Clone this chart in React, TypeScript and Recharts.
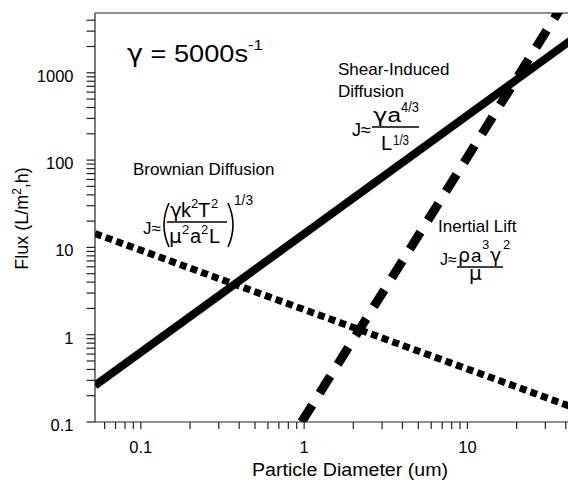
import React from 'react';
import { LineChart, Line, XAxis, YAxis, ReferenceLine } from 'recharts';

// particle diameter (um) and flux (L/m2,h) end points
const brownianDiameter = [0.0524, 46.2];
const brownianFlux = [14.4, 0.143];
const shearDiameter = [0.0524, 46.2];
const shearFlux = [0.262, 2600];
const liftDiameter = [0.965, 46.2];
const liftFlux = [0.1, 10500];

const diameterTicks = [
  0.06, 0.07, 0.08, 0.09, 0.1, 0.2, 0.3, 0.4, 0.5, 0.6, 0.7, 0.8, 0.9,
  1, 2, 3, 4, 5, 6, 7, 8, 9, 10, 20, 30, 40,
];
const diameterLabels: Record<string, string> = { '0.1': '0.1', '1': '1', '10': '10' };
const fluxTicks = [
  0.1, 0.2, 0.3, 0.4, 0.5, 0.6, 0.7, 0.8, 0.9,
  1, 2, 3, 4, 5, 6, 7, 8, 9,
  10, 20, 30, 40, 50, 60, 70, 80, 90,
  100, 200, 300, 400, 500, 600, 700, 800, 900,
  1000, 2000, 3000, 4000,
];
const fluxLabels: Record<string, string> = {
  '0.1': '0.1', '1': '1', '10': '10', '100': '100', '1000': '1000',
};
const diameterDomain = [0.0524, 46.2];
const fluxDomain = [0.1, 4840];

const toRows = (xs: number[], ys: number[]) => xs.map((d, i) => ({ d, j: ys[i] }));
const brownian = toRows(brownianDiameter, brownianFlux);
const shear = toRows(shearDiameter, shearFlux);
const lift = toRows(liftDiameter, liftFlux);

const FONT = '"Liberation Sans", Arial, Helvetica, sans-serif';
const GREEK = '"DejaVu Sans", sans-serif';
const INK = '#222';

const YTick = (props: any) => {
  const { x, y, payload } = props;
  const label = fluxLabels[String(payload.value)];
  if (!label) return <g />;
  return (
    <text x={x} y={y} dy={9} textAnchor="end" fontSize={16.5} fontFamily={FONT} fill="#000">
      {label}
    </text>
  );
};

const XTick = (props: any) => {
  const { x, y, payload } = props;
  const label = diameterLabels[String(payload.value)];
  if (!label) return <g />;
  return (
    <text x={x} y={y} dy={24} textAnchor="middle" fontSize={16.5} fontFamily={FONT} fill="#000">
      {label}
    </text>
  );
};

const Bar = ({ x1, x2, y }: { x1: number; x2: number; y: number }) => (
  <line x1={x1} x2={x2} y1={y} y2={y} stroke="#000" strokeWidth={1.3} />
);

// text overlay, written in page coordinates
const Notes = () => (
  <g transform="translate(-8,-8)" fontFamily={FONT} fill="#000">
    <text x={127} y={62} fontSize={24} textLength={121} lengthAdjust="spacingAndGlyphs">
      <tspan fontFamily={GREEK}>γ</tspan> = 5000s
    </text>
    <text x={248} y={50} fontSize={14} textLength={15} lengthAdjust="spacingAndGlyphs">-1</text>

    <text x={338} y={75} fontSize={17}>Shear-Induced</text>
    <text x={338} y={97} fontSize={17}>Diffusion</text>
    <text x={352} y={136} fontSize={18}>J≈</text>
    <text x={373} y={122} fontSize={20} textLength={28} lengthAdjust="spacingAndGlyphs">
      <tspan fontFamily={GREEK}>γ</tspan>a
    </text>
    <text x={401} y={112} fontSize={14} textLength={18} lengthAdjust="spacingAndGlyphs">4/3</text>
    <Bar x1={372} x2={419} y={127} />
    <text x={381} y={150} fontSize={20}>L</text>
    <text x={393} y={145} fontSize={14} textLength={16} lengthAdjust="spacingAndGlyphs">1/3</text>

    <text x={133} y={175} fontSize={17}>Brownian Diffusion</text>
    <text x={143} y={234} fontSize={17}>J≈</text>
    <path d="M169 203 Q159 225 169 247" stroke="#000" strokeWidth={1.6} fill="none" />
    <text x={170} y={217} fontSize={20} fontFamily={GREEK}>γ</text>
    <text x={181} y={217} fontSize={20}>k</text>
    <text x={191} y={208} fontSize={13}>2</text>
    <text x={198} y={217} fontSize={20}>T</text>
    <text x={211} y={208} fontSize={13}>2</text>
    <Bar x1={167} x2={227} y={222} />
    <text x={169} y={243} fontSize={20} fontFamily={GREEK}>μ</text>
    <text x={182} y={234} fontSize={13}>2</text>
    <text x={190} y={243} fontSize={20}>a</text>
    <text x={201} y={234} fontSize={13}>2</text>
    <text x={209} y={243} fontSize={20}>L</text>
    <path d="M228 203 Q238 225 228 247" stroke="#000" strokeWidth={1.6} fill="none" />
    <text x={234} y={205} fontSize={14} textLength={19} lengthAdjust="spacingAndGlyphs">1/3</text>

    <text x={438} y={232} fontSize={17}>Inertial Lift</text>
    <text x={440} y={265} fontSize={16}>J≈</text>
    <text x={458} y={262} fontSize={19} fontFamily={GREEK}>ρ</text>
    <text x={471} y={262} fontSize={19}>a</text>
    <text x={482} y={249} fontSize={13}>3</text>
    <text x={490} y={262} fontSize={19} fontFamily={GREEK}>γ</text>
    <text x={503} y={249} fontSize={13}>2</text>
    <Bar x1={457} x2={503} y={267} />
    <text x={469} y={280} fontSize={20} fontFamily={GREEK}>μ</text>

    <text x={252} y={476} fontSize={18} textLength={196} lengthAdjust="spacingAndGlyphs">Particle Diameter (um)</text>
    <text transform="translate(28,218.5) rotate(-90)" textAnchor="middle" fontSize={18}>
      Flux (L/m<tspan fontSize={12} dy={-7}>2</tspan><tspan dy={7}>,h)</tspan>
    </text>
  </g>
);

const App: React.FC = () => {
  return (
    <div style={{ position: 'relative', width: 568, height: 473 }}>
      <LineChart width={568} height={473} margin={{ top: 5, right: 0, bottom: 0, left: 0 }}>
        <XAxis
          dataKey="d"
          type="number"
          scale="log"
          domain={diameterDomain}
          allowDataOverflow
          ticks={diameterTicks}
          interval={0}
          tick={<XTick />}
          tickSize={7}
          tickMargin={0}
          height={59}
          stroke={INK}
          strokeWidth={1.2}
        />
        <YAxis
          dataKey="j"
          type="number"
          scale="log"
          domain={fluxDomain}
          allowDataOverflow
          ticks={fluxTicks}
          interval={0}
          tick={<YTick />}
          tickSize={8.5}
          tickMargin={13}
          width={87}
          stroke={INK}
          strokeWidth={1.2}
        />
        <ReferenceLine y={fluxDomain[1]} stroke={INK} strokeWidth={1.2} />
        <Line
          data={brownian}
          dataKey="j"
          stroke="#000"
          strokeWidth={7}
          strokeDasharray="7 4.3"
          strokeLinecap="butt"
          dot={false}
          activeDot={false}
          isAnimationActive={false}
        />
        <Line
          data={lift}
          dataKey="j"
          stroke="#000"
          strokeWidth={9}
          strokeDasharray="20 14"
          strokeLinecap="butt"
          dot={false}
          activeDot={false}
          isAnimationActive={false}
        />
        <Line
          data={shear}
          dataKey="j"
          stroke="#000"
          strokeWidth={8}
          strokeLinecap="butt"
          dot={false}
          activeDot={false}
          isAnimationActive={false}
        />
      </LineChart>
      <svg
        width={568}
        height={473}
        style={{ position: 'absolute', left: 0, top: 0, overflow: 'visible', pointerEvents: 'none' }}
      >
        <Notes />
      </svg>
    </div>
  );
};

export default App;
